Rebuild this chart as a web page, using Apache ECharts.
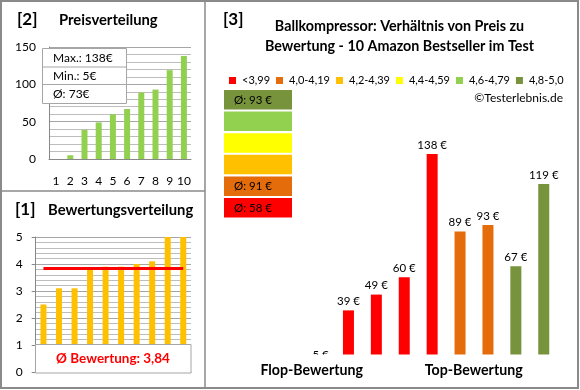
<!DOCTYPE html>
<html><head><meta charset="utf-8">
<script src="https://cdn.jsdelivr.net/npm/echarts@6/dist/echarts.min.js"></script>
<style>html,body{margin:0;padding:0;background:#fff}#c{width:580px;height:390px}</style>
</head><body><div id="c"></div>
<script>
// ---- data ----
const positions = ['1','2','3','4','5','6','7','8','9','10'];
const pricesSorted = [0, 5, 39, 49, 60, 67, 89, 93, 119, 138];
const ratingsSorted = [2.5, 3.1, 3.1, 3.8, 3.9, 3.9, 4.0, 4.1, 5.0, 5.0];
const pricesByRating = [null, 5, 39, 49, 60, 138, 89, 93, 67, 119];
const ratingsOfProducts = [2.5, 3.1, 3.1, 3.8, 3.9, 3.9, 4.0, 4.1, 5.0, 5.0];
const priceTicks = [0, 50, 100, 150];
const ratingTicks = [0, 1, 2, 3, 4, 5];
const classNames = ['<3,99', '4,0-4,19', '4,2-4,39', '4,4-4,59', '4,6-4,79', '4,8-5,0'];
const classLower = [0, 4.0, 4.2, 4.4, 4.6, 4.8];
const classColors = ['#FF0000', '#E46C0A', '#FFC000', '#FFFF00', '#92D050', '#77933C'];
const titleText = 'Ballkompressor: Verhältnis von Preis zu\nBewertung - 10 Amazon Bestseller im Test';

// ---- derived ----
const FONT = 'Lato';
function classOf(r) { let c = 0; for (let i = 0; i < classLower.length; i++) if (r >= classLower[i]) c = i; return c; }
const realPrices = pricesByRating.filter(p => p != null);
const pMax = Math.max(...realPrices), pMin = Math.min(...realPrices);
const pAvg = Math.round(realPrices.reduce((a, b) => a + b, 0) / realPrices.length);
const rAvg = ratingsSorted.reduce((a, b) => a + b, 0) / ratingsSorted.length;
const classAvg = classNames.map((n, c) => {
  const v = pricesByRating.filter((p, i) => p != null && classOf(ratingsOfProducts[i]) === c);
  return v.length ? Math.round(v.reduce((a, b) => a + b, 0) / v.length) : null;
});

const chart = echarts.init(document.getElementById('c'), null, { renderer: 'canvas' });

const gridLine = { show: true, lineStyle: { color: '#A6A6A6', width: 1 } };
const minorLine = { show: true, lineStyle: { color: '#BDBDBD', width: 1 } };

const series = [];
series.push({
  type: 'bar', xAxisIndex: 0, yAxisIndex: 0, data: pricesSorted, barWidth: 6,
  itemStyle: { color: '#92D050' }, silent: true
});
series.push({
  type: 'bar', xAxisIndex: 1, yAxisIndex: 1, data: ratingsSorted, barWidth: 6,
  itemStyle: { color: '#FFC000' }, silent: true,
  markLine: {
    silent: true, symbol: 'none', label: { show: false },
    lineStyle: { color: '#FF0000', width: 3, type: 'solid' },
    data: [[{ coord: [0, rAvg] }, { coord: [ratingsSorted.length - 1, rAvg] }]]
  }
});
classNames.forEach((name, c) => {
  series.push({
    name: name, type: 'bar', xAxisIndex: 2, yAxisIndex: 2, barWidth: 11, barGap: '-100%',
    itemStyle: { color: classColors[c] }, silent: true,
    data: pricesByRating.map((p, i) => (p != null && classOf(ratingsOfProducts[i]) === c) ? p : '-'),
    label: { show: true, position: 'top', distance: 3, formatter: '{c} €',
      fontFamily: FONT, fontSize: 11.5, color: '#000' }
  });
});

const graphics = [];
graphics.push({ type: 'rect', z: 200, shape: { x: 1, y: 1, width: 577, height: 387 }, style: { fill: null, stroke: '#8A8A8A', lineWidth: 2 } });
graphics.push({ type: 'line', z: 200, shape: { x1: 205, y1: 1, x2: 205, y2: 388 }, style: { stroke: '#8A8A8A', lineWidth: 1.5 } });
graphics.push({ type: 'line', z: 200, shape: { x1: 1, y1: 191, x2: 205, y2: 191 }, style: { stroke: '#8A8A8A', lineWidth: 1.5 } });
function txt(x, y, s, size, weight, extra) {
  return Object.assign({ type: 'text', z: 150, x: x, y: y,
    style: Object.assign({ text: s, font: (weight || 'normal') + ' ' + size + 'px ' + FONT, fill: '#000',
      textAlign: 'left', textVerticalAlign: 'middle' }, extra || {}) });
}
graphics.push(txt(17, 20, '[2]', 17, 'bold'));
graphics.push(txt(59, 20, 'Preisverteilung', 14.8, 'bold'));
graphics.push(txt(15, 210, '[1]', 17, 'bold'));
graphics.push(txt(48, 210, 'Bewertungsverteilung', 14.8, 'bold'));
graphics.push(txt(223, 20, '[3]', 17, 'bold'));
graphics.push({ type: 'text', z: 150, x: 399.5, y: 16,
  style: { text: titleText, font: 'bold 14.3px ' + FONT, fill: '#000', textAlign: 'center', textVerticalAlign: 'top', lineHeight: 20 } });
graphics.push(txt(563, 98, '©Testerlebnis.de', 12, 'normal', { textAlign: 'right' }));
graphics.push({ type: 'rect', z: 120, shape: { x: 42.5, y: 48.5, width: 84, height: 55 }, style: { fill: '#fff', stroke: '#A6A6A6', lineWidth: 1 } });
graphics.push({ type: 'line', z: 121, shape: { x1: 42.5, y1: 67, x2: 126.5, y2: 67 }, style: { stroke: '#A6A6A6', lineWidth: 1 } });
graphics.push({ type: 'line', z: 121, shape: { x1: 42.5, y1: 84.5, x2: 126.5, y2: 84.5 }, style: { stroke: '#A6A6A6', lineWidth: 1 } });
graphics.push(txt(53, 58, 'Max.: ' + pMax + '€', 12));
graphics.push(txt(53, 76, 'Min.: ' + pMin + '€', 12));
graphics.push(txt(53, 94, 'Ø: ' + pAvg + '€', 12));
graphics.push({ type: 'rect', z: 120, shape: { x: 35.5, y: 344.5, width: 155.5, height: 28.5 }, style: { fill: '#fff', stroke: '#A6A6A6', lineWidth: 1 } });
graphics.push(txt(113, 359, 'Ø Bewertung: ' + rAvg.toFixed(2).replace('.', ','), 13.5, 'bold', { fill: '#FF0000', textAlign: 'center' }));
for (let k = 0; k < classNames.length; k++) {
  const c = classNames.length - 1 - k;
  const y = 90 + k * 21.6;
  graphics.push({ type: 'rect', z: 120, shape: { x: 224, y: y, width: 68, height: 19.5 }, style: { fill: classColors[c] } });
  if (classAvg[c] != null) graphics.push(txt(234, y + 10, 'Ø: ' + classAvg[c] + ' €', 11.5, 'normal'));
}
graphics.push({ type: 'rect', z: 110, shape: { x: 279, y: 354.5, width: 280, height: 19 }, style: { fill: '#fff' } });
graphics.push(txt(311.7, 370, 'Flop-Bewertung', 14.2, 'bold', { textAlign: 'center' }));
graphics.push(txt(473.7, 370, 'Top-Bewertung', 14.2, 'bold', { textAlign: 'center' }));

const option = {
  animation: false,
  backgroundColor: '#fff',
  textStyle: { fontFamily: FONT },
  legend: {
    left: 224, top: 70, itemWidth: 7, itemHeight: 7, itemGap: 6, icon: 'rect',
    selectedMode: false, data: classNames,
    textStyle: { fontFamily: FONT, fontSize: 11, color: '#000', padding: [0, 0, 0, 1] }
  },
  grid: [
    { left: 49, top: 47, width: 142, height: 112 },
    { left: 35.7, top: 237, width: 155.3, height: 135 },
    { left: 278.7, top: 135, width: 279, height: 237 }
  ],
  xAxis: [
    { gridIndex: 0, type: 'category', data: positions,
      axisLine: { show: true, lineStyle: { color: '#888' } }, axisTick: { show: false },
      axisLabel: { interval: 0, margin: 16, fontFamily: FONT, fontSize: 12, color: '#000' } },
    { gridIndex: 1, type: 'category', data: positions,
      axisLine: { show: true, lineStyle: { color: '#888' } }, axisTick: { show: false }, axisLabel: { show: false } },
    { gridIndex: 2, type: 'category', data: positions, show: false }
  ],
  yAxis: [
    { gridIndex: 0, type: 'value', min: priceTicks[0], max: priceTicks[priceTicks.length - 1], interval: priceTicks[1] - priceTicks[0],
      axisLine: { show: true, lineStyle: { color: '#888' } }, axisTick: { show: false },
      axisLabel: { margin: 13, fontFamily: FONT, fontSize: 12, color: '#000' },
      splitLine: gridLine, minorTick: { show: false, splitNumber: 5 }, minorSplitLine: minorLine },
    { gridIndex: 1, type: 'value', min: ratingTicks[0], max: ratingTicks[ratingTicks.length - 1], interval: ratingTicks[1] - ratingTicks[0],
      axisLine: { show: true, lineStyle: { color: '#888' } },
      axisTick: { show: true, length: 4, lineStyle: { color: '#888' } },
      axisLabel: { margin: 13, fontFamily: FONT, fontSize: 12, color: '#000' },
      splitLine: gridLine, minorTick: { show: false, splitNumber: 5 }, minorSplitLine: minorLine },
    { gridIndex: 2, type: 'value', min: 0, max: 150, show: false, splitLine: { show: false } }
  ],
  series: series,
  graphic: graphics
};
chart.setOption(option);
</script></body></html>
